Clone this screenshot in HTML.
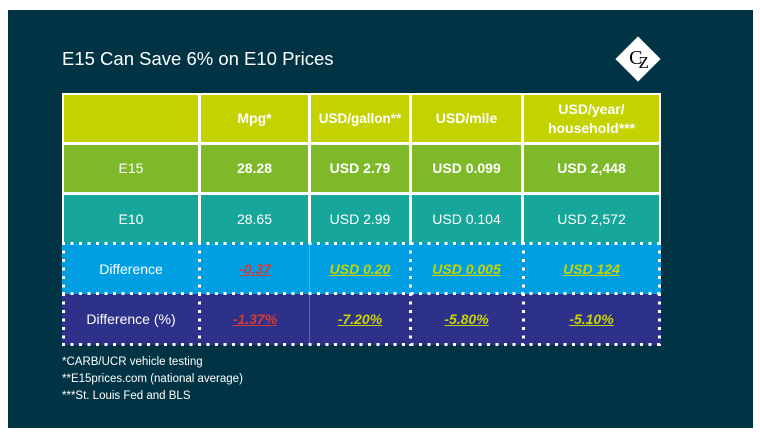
<!DOCTYPE html>
<html><head><style>
body{margin:0;width:760px;height:436px;background:#fff;position:relative;overflow:hidden;font-family:"Liberation Sans",sans-serif}
#p{position:absolute;left:8px;top:10px;width:745px;height:418px;background:#003445}
.c{position:absolute;display:flex;align-items:center;justify-content:center;text-align:center;color:#fff;font-size:14px;line-height:19px;box-sizing:border-box}
.b{font-weight:bold}
.u{font-weight:bold;font-style:italic;text-decoration:underline}
.r{color:#d23a35}.y{color:#c8d400}
.h{position:absolute;height:3px;background:repeating-linear-gradient(90deg,#fff 0 3px,transparent 3px 8.5px)}
.v{position:absolute;width:3px;background:repeating-linear-gradient(180deg,#fff 0 3px,transparent 3px 8.5px)}
.fn{position:absolute;left:62px;color:#fff;font-size:11.5px}
</style></head><body>
<div id="p"></div>
<div style="position:absolute;left:62px;top:48px;color:#fff;font-size:18.5px">E15 Can Save 6% on E10 Prices</div>
<div style="position:absolute;left:622px;top:43px;width:32px;height:32px;background:#fff;transform:rotate(45deg)"></div>
<div style="position:absolute;left:625px;top:47px;width:32px;text-align:center;font-family:'Liberation Serif',serif;font-size:20px;color:#000">C<span style="font-size:17px;position:relative;top:4px;left:-4px">Z</span></div>
<div style="position:absolute;left:62px;top:93px;width:599px;height:251px;background:#fff"></div>
<!-- header -->
<div class="c" style="left:64px;top:95px;width:134px;height:47px;background:#c4d200"></div>
<div class="c b" style="left:201px;top:95px;width:107px;height:47px;background:#c4d200">Mpg*</div>
<div class="c b" style="left:311px;top:95px;width:98px;height:47px;background:#c4d200;font-size:13.5px">USD/gallon**</div>
<div class="c b" style="left:412px;top:95px;width:109px;height:47px;background:#c4d200">USD/mile</div>
<div class="c b" style="left:524px;top:95px;width:135px;height:47px;background:#c4d200">USD/year/<br>household***</div>
<!-- E15 -->
<div class="c" style="left:64px;top:145px;width:134px;height:47px;background:#7db928">E15</div>
<div class="c b" style="left:201px;top:145px;width:107px;height:47px;background:#7db928">28.28</div>
<div class="c b" style="left:311px;top:145px;width:98px;height:47px;background:#7db928">USD 2.79</div>
<div class="c b" style="left:412px;top:145px;width:109px;height:47px;background:#7db928">USD 0.099</div>
<div class="c b" style="left:524px;top:145px;width:135px;height:47px;background:#7db928">USD 2,448</div>
<!-- E10 -->
<div class="c" style="left:64px;top:195px;width:134px;height:48px;background:#16a79a">E10</div>
<div class="c" style="left:201px;top:195px;width:107px;height:48px;background:#16a79a">28.65</div>
<div class="c" style="left:311px;top:195px;width:98px;height:48px;background:#16a79a">USD 2.99</div>
<div class="c" style="left:412px;top:195px;width:109px;height:48px;background:#16a79a">USD 0.104</div>
<div class="c" style="left:524px;top:195px;width:135px;height:48px;background:#16a79a">USD 2,572</div>
<!-- diff rows bg -->
<div style="position:absolute;left:62px;top:243px;width:599px;height:51px;background:#009fe3"></div>
<div style="position:absolute;left:62px;top:294px;width:599px;height:51px;background:#2e3189"></div>
<div style="position:absolute;left:309px;top:243px;width:1px;height:101px;background:rgba(255,255,255,.25)"></div>
<div class="c" style="left:62px;top:244px;width:138px;height:50px">Difference</div>
<div class="c u r" style="left:200px;top:244px;width:110px;height:50px">-0.37</div>
<div class="c u y" style="left:310px;top:244px;width:100px;height:50px">USD 0.20</div>
<div class="c u y" style="left:410px;top:244px;width:113px;height:50px">USD 0.005</div>
<div class="c u y" style="left:523px;top:244px;width:137px;height:50px">USD 124</div>
<div class="c" style="left:62px;top:294px;width:138px;height:50px">Difference (%)</div>
<div class="c u r" style="left:200px;top:294px;width:110px;height:50px">-1.37%</div>
<div class="c u y" style="left:310px;top:294px;width:100px;height:50px">-7.20%</div>
<div class="c u y" style="left:410px;top:294px;width:113px;height:50px">-5.80%</div>
<div class="c u y" style="left:523px;top:294px;width:137px;height:50px">-5.10%</div>
<!-- dotted -->
<div class="h" style="left:62px;top:242px;width:600px"></div>
<div class="h" style="left:62px;top:292px;width:600px"></div>
<div class="h" style="left:62px;top:343px;width:600px"></div>
<div class="v" style="left:62px;top:242px;height:104px"></div>
<div class="v" style="left:198px;top:242px;height:104px"></div>
<div class="v" style="left:409px;top:242px;height:104px"></div>
<div class="v" style="left:522px;top:242px;height:104px"></div>
<div class="v" style="left:658px;top:242px;height:104px"></div>
<div class="fn" style="top:356px">*CARB/UCR vehicle testing</div>
<div class="fn" style="top:373px">**E15prices.com (national average)</div>
<div class="fn" style="top:390px">***St. Louis Fed and BLS</div>
</body></html>
